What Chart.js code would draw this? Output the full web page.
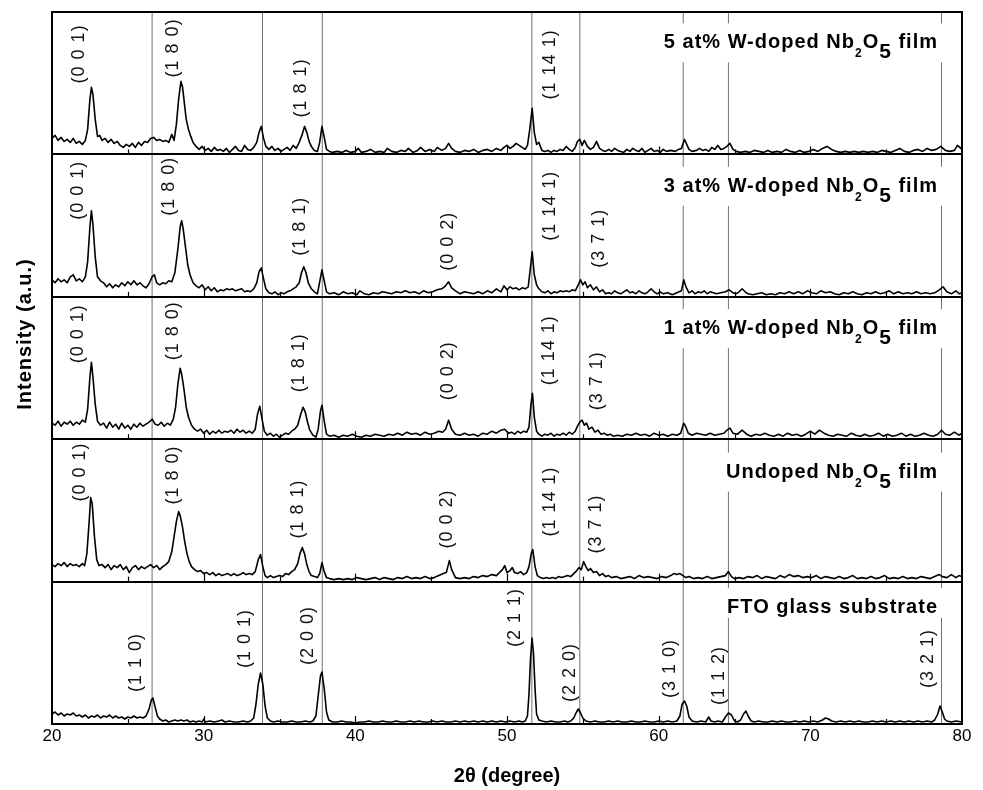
<!DOCTYPE html>
<html><head><meta charset="utf-8">
<script src="https://cdn.jsdelivr.net/npm/chart.js@4"></script>
<style>html,body{margin:0;padding:0;background:#fff;} canvas{display:block;}</style>
</head><body>
<canvas id="c" width="983" height="790"></canvas>
<script>
// ---------- DATA (2θ in degrees, intensity in a.u.; each panel spans 142.4 a.u.) ----------
const panelTitles = ['FTO glass substrate', 'Undoped Nb₂O₅ film', '1 at% W-doped Nb₂O₅ film', '3 at% W-doped Nb₂O₅ film', '5 at% W-doped Nb₂O₅ film'];
const titleHeights = [111, 104, 105, 105, 106];
const refLines = [26.6, 33.88, 37.82, 51.64, 54.8, 61.62, 64.6, 78.65];
const xTicks = [20, 30, 40, 50, 60, 70, 80];

const fto = [[20.0,10],[20.2,12],[20.4,9],[20.6,11],[20.8,8],[21.0,10],[21.2,9],[21.4,11],[21.6,8],[21.8,9],[22.0,7],[22.2,9],[22.4,6],[22.6,8],[22.8,7],[23.0,9],[23.2,6],[23.4,8],[23.6,7],[23.8,9],[24.0,6],[24.2,8],[24.4,6],[24.6,7],[24.8,5],[25.0,7],[25.2,6],[25.4,8],[25.6,6],[25.8,7],[26.0,6],[26.2,8],[26.4,15],[26.55,24],[26.65,26],[26.8,17],[26.95,8],[27.1,5],[27.3,3],[27.5,4],[27.7,2],[27.9,3],[28.1,4],[28.3,3],[28.5,4],[28.7,3],[28.9,4],[29.1,2],[29.3,3],[29.5,2],[29.7,3],[29.9,2],[30.0,5],[30.1,2],[30.4,3],[30.7,2],[31.0,3],[31.2,4],[31.4,2],[31.7,3],[32.0,2],[32.3,2],[32.6,3],[32.9,2],[33.1,3],[33.3,6],[33.45,20],[33.6,40],[33.75,51],[33.9,40],[34.05,18],[34.2,6],[34.4,3],[34.6,2],[34.9,3],[35.2,2],[35.5,2],[35.8,3],[36.1,2],[36.4,2],[36.7,3],[37.0,2],[37.2,3],[37.4,8],[37.55,28],[37.7,48],[37.8,52],[37.95,35],[38.1,12],[38.25,4],[38.5,2],[38.8,2],[39.1,3],[39.4,2],[39.7,2],[40.0,1],[40.3,2],[40.6,2],[40.9,3],[41.2,2],[41.5,2],[41.8,3],[42.1,2],[42.4,2],[42.7,3],[43.0,2],[43.3,2],[43.6,3],[43.9,2],[44.2,3],[44.5,2],[44.8,2],[45.1,3],[45.4,2],[45.7,3],[46.0,2],[46.3,2],[46.6,3],[46.9,2],[47.2,3],[47.5,2],[47.8,3],[48.1,2],[48.4,3],[48.7,2],[49.0,3],[49.3,2],[49.6,3],[49.9,2],[50.2,3],[50.5,2],[50.8,3],[51.0,2],[51.2,3],[51.35,8],[51.45,30],[51.55,65],[51.65,86],[51.75,70],[51.85,35],[51.95,10],[52.1,4],[52.3,3],[52.6,2],[52.9,3],[53.2,2],[53.5,2],[53.8,3],[54.0,2],[54.2,3],[54.4,6],[54.55,11],[54.7,15],[54.85,11],[55.0,6],[55.2,3],[55.5,2],[55.8,3],[56.1,2],[56.4,2],[56.7,3],[57.0,2],[57.3,3],[57.6,2],[57.9,2],[58.2,3],[58.5,2],[58.8,2],[59.1,3],[59.4,2],[59.7,2],[60.0,3],[60.3,2],[60.6,3],[60.9,2],[61.2,3],[61.4,8],[61.55,20],[61.7,23],[61.85,18],[62.0,7],[62.2,3],[62.5,2],[62.8,3],[63.1,2],[63.3,7],[63.45,3],[63.7,2],[63.9,3],[64.2,2],[64.4,7],[64.6,11],[64.8,9],[65.0,3],[65.2,2],[65.4,4],[65.6,10],[65.75,13],[65.9,8],[66.1,3],[66.3,2],[66.6,3],[66.9,2],[67.2,2],[67.5,3],[67.8,2],[68.1,3],[68.4,2],[68.7,2],[69.0,3],[69.3,2],[69.6,3],[69.9,2],[70.2,3],[70.5,2],[70.8,4],[71.0,6],[71.2,5],[71.4,3],[71.7,2],[72.0,3],[72.3,2],[72.6,3],[72.9,2],[73.2,3],[73.5,2],[73.8,2],[74.1,3],[74.4,2],[74.7,3],[75.0,2],[75.3,3],[75.6,2],[75.9,3],[76.2,2],[76.5,3],[76.8,2],[77.1,3],[77.4,2],[77.7,3],[78.0,2],[78.2,4],[78.4,10],[78.55,18],[78.7,12],[78.85,5],[79.0,3],[79.3,2],[79.6,3],[80.0,2]];

const undoped = [[20.0,17],[20.2,15],[20.4,18],[20.6,16],[20.8,19],[21.0,15],[21.2,18],[21.4,16],[21.6,17],[21.8,15],[22.0,18],[22.15,16],[22.3,28],[22.45,60],[22.55,84],[22.65,78],[22.8,45],[22.95,22],[23.1,16],[23.3,17],[23.5,14],[23.7,17],[23.9,12],[24.1,16],[24.3,14],[24.5,17],[24.7,12],[24.9,15],[25.1,9],[25.3,14],[25.5,16],[25.7,12],[25.9,15],[26.1,13],[26.3,15],[26.5,17],[26.7,14],[26.9,16],[27.1,12],[27.3,15],[27.5,17],[27.7,20],[27.9,30],[28.05,45],[28.2,60],[28.35,70],[28.45,66],[28.6,55],[28.75,40],[28.9,28],[29.05,20],[29.2,15],[29.4,12],[29.6,10],[29.8,11],[30.0,8],[30.2,9],[30.4,7],[30.6,9],[30.8,6],[31.0,8],[31.2,6],[31.4,7],[31.6,8],[31.8,6],[32.0,8],[32.2,6],[32.4,7],[32.6,9],[32.8,7],[33.0,8],[33.2,7],[33.4,10],[33.6,22],[33.75,27],[33.9,15],[34.05,6],[34.2,4],[34.4,6],[34.6,4],[34.8,5],[35.0,6],[35.2,5],[35.4,8],[35.6,7],[35.8,10],[36.0,12],[36.2,18],[36.35,28],[36.5,34],[36.65,28],[36.8,17],[36.95,10],[37.1,6],[37.3,5],[37.5,4],[37.65,8],[37.8,19],[37.95,10],[38.1,4],[38.3,3],[38.6,2],[38.9,3],[39.2,2],[39.5,3],[39.8,2],[40.1,4],[40.4,3],[40.7,2],[41.0,3],[41.3,4],[41.6,2],[41.9,4],[42.2,3],[42.5,2],[42.8,4],[43.1,3],[43.4,5],[43.7,3],[44.0,4],[44.3,3],[44.6,5],[44.9,3],[45.2,4],[45.5,6],[45.8,8],[46.0,9],[46.2,21],[46.35,12],[46.6,4],[46.9,3],[47.2,4],[47.5,3],[47.8,5],[48.1,4],[48.4,6],[48.7,5],[49.0,7],[49.3,6],[49.5,9],[49.7,12],[49.85,16],[50.0,9],[50.2,11],[50.35,14],[50.5,9],[50.7,8],[50.9,10],[51.1,7],[51.3,9],[51.45,15],[51.6,28],[51.7,32],[51.85,15],[52.0,6],[52.2,4],[52.4,3],[52.6,4],[52.8,3],[53.0,4],[53.2,3],[53.4,5],[53.6,4],[53.8,5],[54.0,6],[54.2,5],[54.4,8],[54.6,11],[54.75,14],[54.9,12],[55.05,20],[55.2,15],[55.35,11],[55.5,13],[55.7,9],[55.9,10],[56.1,6],[56.3,8],[56.5,5],[56.7,6],[56.9,4],[57.2,5],[57.5,3],[57.8,4],[58.1,5],[58.4,3],[58.7,6],[59.0,4],[59.3,5],[59.6,4],[59.9,3],[60.2,5],[60.5,4],[60.8,6],[61.0,8],[61.2,7],[61.4,8],[61.6,6],[61.8,4],[62.0,5],[62.3,3],[62.6,4],[62.9,3],[63.2,5],[63.5,3],[63.8,4],[64.1,5],[64.4,6],[64.6,10],[64.8,5],[65.0,3],[65.3,4],[65.6,3],[65.9,5],[66.2,4],[66.5,6],[66.8,3],[67.1,5],[67.4,4],[67.7,3],[68.0,6],[68.3,4],[68.6,7],[68.9,5],[69.2,6],[69.5,4],[69.8,5],[70.1,4],[70.4,6],[70.7,3],[71.0,5],[71.3,4],[71.6,3],[71.9,5],[72.2,3],[72.5,4],[72.8,6],[73.1,3],[73.4,4],[73.7,3],[74.0,5],[74.3,3],[74.6,4],[74.9,6],[75.2,3],[75.5,4],[75.8,3],[76.1,5],[76.4,3],[76.7,4],[77.0,3],[77.3,5],[77.6,4],[77.9,3],[78.2,5],[78.5,7],[78.7,5],[79.0,4],[79.3,7],[79.6,4],[79.8,6],[80.0,5]];

const w1 = [[20.0,16],[20.2,14],[20.4,18],[20.6,13],[20.8,17],[21.0,15],[21.2,18],[21.4,14],[21.6,17],[21.8,15],[22.0,19],[22.2,17],[22.35,30],[22.5,62],[22.6,77],[22.7,62],[22.85,35],[23.0,18],[23.2,14],[23.4,16],[23.6,11],[23.8,17],[24.0,12],[24.2,15],[24.4,10],[24.6,16],[24.8,11],[25.0,14],[25.2,10],[25.4,15],[25.6,12],[25.8,16],[26.0,13],[26.2,15],[26.4,17],[26.6,20],[26.8,15],[27.0,14],[27.2,17],[27.4,13],[27.6,16],[27.8,14],[28.0,20],[28.15,32],[28.3,55],[28.45,71],[28.55,65],[28.7,50],[28.85,32],[29.0,22],[29.2,14],[29.4,10],[29.6,8],[29.8,10],[30.0,6],[30.2,9],[30.4,5],[30.6,8],[30.8,6],[31.0,9],[31.2,6],[31.4,8],[31.6,7],[31.8,9],[32.0,6],[32.2,10],[32.4,7],[32.6,9],[32.8,6],[33.0,8],[33.2,6],[33.4,10],[33.55,25],[33.7,33],[33.85,20],[34.0,8],[34.2,4],[34.4,6],[34.6,3],[34.8,5],[35.0,2],[35.2,4],[35.4,6],[35.6,5],[35.8,8],[36.0,10],[36.2,14],[36.4,25],[36.55,32],[36.7,27],[36.85,17],[37.0,9],[37.2,4],[37.4,2],[37.55,10],[37.7,28],[37.8,34],[37.95,18],[38.1,5],[38.3,3],[38.6,4],[38.9,2],[39.2,4],[39.5,3],[39.8,5],[40.1,3],[40.4,2],[40.7,4],[41.0,3],[41.3,5],[41.6,4],[41.9,3],[42.2,5],[42.5,4],[42.8,6],[43.1,4],[43.4,7],[43.7,5],[44.0,6],[44.3,4],[44.6,7],[44.9,5],[45.2,6],[45.5,8],[45.75,7],[45.95,10],[46.15,19],[46.35,10],[46.6,5],[46.9,4],[47.2,6],[47.5,4],[47.8,5],[48.1,3],[48.4,6],[48.7,5],[49.0,8],[49.3,6],[49.6,9],[49.85,10],[50.1,6],[50.3,7],[50.5,5],[50.7,8],[50.9,6],[51.1,8],[51.3,7],[51.45,12],[51.58,35],[51.68,46],[51.8,22],[51.95,8],[52.1,5],[52.3,3],[52.5,5],[52.7,4],[52.9,6],[53.1,3],[53.3,5],[53.5,4],[53.7,6],[53.9,4],[54.1,7],[54.3,5],[54.5,8],[54.65,13],[54.8,17],[54.95,19],[55.1,14],[55.25,16],[55.4,10],[55.6,12],[55.8,7],[56.0,9],[56.2,5],[56.4,6],[56.6,4],[56.8,5],[57.0,3],[57.3,4],[57.6,3],[57.9,5],[58.2,4],[58.5,6],[58.8,4],[59.1,5],[59.4,3],[59.7,6],[60.0,4],[60.3,5],[60.6,3],[60.9,5],[61.2,4],[61.45,6],[61.65,16],[61.8,12],[61.95,6],[62.2,4],[62.5,6],[62.8,5],[63.1,4],[63.4,6],[63.7,4],[64.0,5],[64.3,6],[64.5,9],[64.7,11],[64.9,6],[65.2,5],[65.5,9],[65.8,5],[66.1,3],[66.4,5],[66.7,4],[67.0,6],[67.3,4],[67.6,3],[67.9,5],[68.2,3],[68.5,6],[68.8,4],[69.1,5],[69.4,3],[69.7,5],[70.0,8],[70.3,5],[70.6,9],[70.9,6],[71.2,4],[71.5,3],[71.8,5],[72.1,4],[72.4,3],[72.7,6],[73.0,4],[73.3,3],[73.6,5],[73.9,3],[74.2,4],[74.5,6],[74.8,3],[75.1,5],[75.4,3],[75.7,4],[76.0,6],[76.3,3],[76.6,5],[76.9,3],[77.2,4],[77.5,6],[77.8,4],[78.1,3],[78.4,5],[78.65,9],[78.9,5],[79.2,4],[79.5,7],[79.8,4],[80.0,6]];

const w3 = [[20.0,17],[20.2,14],[20.4,18],[20.6,15],[20.8,17],[21.0,14],[21.2,20],[21.4,22],[21.6,16],[21.8,18],[22.0,15],[22.2,20],[22.35,35],[22.5,70],[22.6,86],[22.7,72],[22.85,40],[23.0,20],[23.2,16],[23.4,14],[23.6,10],[23.8,13],[24.0,9],[24.2,12],[24.4,10],[24.6,14],[24.8,11],[25.0,15],[25.2,12],[25.4,16],[25.6,12],[25.8,14],[26.0,11],[26.2,9],[26.4,13],[26.6,20],[26.75,22],[26.9,14],[27.1,12],[27.3,14],[27.5,13],[27.7,16],[27.9,15],[28.1,24],[28.3,48],[28.45,70],[28.55,76],[28.65,68],[28.8,50],[28.95,32],[29.1,22],[29.3,14],[29.5,11],[29.7,9],[29.9,12],[30.1,7],[30.3,10],[30.5,6],[30.7,9],[30.9,5],[31.1,7],[31.3,6],[31.5,8],[31.7,7],[31.9,8],[32.1,6],[32.3,7],[32.5,8],[32.7,5],[32.9,6],[33.1,5],[33.3,8],[33.5,14],[33.65,25],[33.8,29],[33.95,18],[34.1,8],[34.3,4],[34.5,3],[34.7,5],[34.9,2],[35.1,4],[35.3,3],[35.5,5],[35.7,6],[35.9,8],[36.1,10],[36.3,14],[36.45,24],[36.6,30],[36.75,24],[36.9,14],[37.1,8],[37.3,5],[37.5,3],[37.65,15],[37.8,27],[37.95,16],[38.1,5],[38.3,3],[38.6,4],[38.9,2],[39.2,5],[39.5,3],[39.8,4],[40.1,2],[40.3,6],[40.6,3],[40.9,2],[41.2,4],[41.5,3],[41.8,5],[42.1,4],[42.4,3],[42.7,5],[43.0,4],[43.3,6],[43.6,4],[43.9,5],[44.2,3],[44.5,6],[44.8,4],[45.1,5],[45.4,7],[45.7,8],[45.95,11],[46.15,15],[46.35,9],[46.6,6],[46.9,3],[47.2,5],[47.5,4],[47.8,3],[48.1,5],[48.4,3],[48.7,6],[49.0,4],[49.3,8],[49.6,5],[49.8,11],[50.0,7],[50.2,10],[50.4,8],[50.6,9],[50.8,7],[51.0,9],[51.2,8],[51.4,10],[51.55,30],[51.66,45],[51.8,22],[51.95,12],[52.1,8],[52.3,5],[52.5,4],[52.7,6],[52.9,3],[53.1,5],[53.3,4],[53.5,6],[53.7,5],[53.9,6],[54.1,5],[54.3,7],[54.5,6],[54.7,12],[54.85,17],[55.0,12],[55.15,15],[55.3,9],[55.5,12],[55.7,7],[55.9,10],[56.1,5],[56.3,7],[56.5,3],[56.7,4],[56.9,3],[57.1,6],[57.3,4],[57.5,3],[57.7,5],[57.9,7],[58.1,4],[58.3,5],[58.5,3],[58.7,6],[58.9,4],[59.1,3],[59.3,5],[59.5,8],[59.7,5],[59.9,3],[60.1,5],[60.3,3],[60.6,4],[60.9,2],[61.2,4],[61.5,6],[61.65,17],[61.8,10],[62.0,4],[62.2,6],[62.4,3],[62.6,5],[62.8,4],[63.0,6],[63.2,3],[63.4,5],[63.6,4],[63.8,3],[64.1,4],[64.4,5],[64.65,7],[64.9,4],[65.1,3],[65.3,5],[65.5,8],[65.7,5],[65.9,3],[66.2,2],[66.5,3],[66.8,4],[67.1,2],[67.4,3],[67.7,2],[68.0,4],[68.3,3],[68.6,5],[68.9,3],[69.2,5],[69.5,3],[69.8,6],[70.1,4],[70.4,3],[70.7,6],[71.0,4],[71.3,5],[71.6,3],[71.9,2],[72.2,4],[72.5,3],[72.8,5],[73.1,3],[73.4,2],[73.7,4],[74.0,3],[74.3,5],[74.6,3],[74.9,4],[75.2,6],[75.5,3],[75.8,5],[76.1,3],[76.4,4],[76.7,3],[77.0,5],[77.3,3],[77.6,4],[77.9,3],[78.2,4],[78.5,7],[78.75,10],[79.0,5],[79.3,3],[79.6,6],[79.8,3],[80.0,4]];

const w5 = [[20.0,16],[20.2,19],[20.4,14],[20.6,17],[20.8,13],[21.0,15],[21.2,12],[21.4,16],[21.6,11],[21.8,13],[22.0,10],[22.2,14],[22.35,25],[22.5,55],[22.6,67],[22.7,60],[22.85,35],[23.0,18],[23.15,19],[23.3,14],[23.5,16],[23.7,12],[23.9,15],[24.1,11],[24.3,13],[24.5,9],[24.7,7],[24.9,10],[25.1,8],[25.3,11],[25.5,7],[25.7,12],[25.9,9],[26.1,13],[26.3,12],[26.5,16],[26.7,17],[26.9,14],[27.1,15],[27.3,13],[27.5,14],[27.7,12],[27.9,20],[28.05,14],[28.2,30],[28.35,55],[28.5,73],[28.6,68],[28.7,55],[28.85,35],[29.0,25],[29.15,18],[29.3,12],[29.5,8],[29.7,5],[29.9,8],[30.1,4],[30.3,6],[30.5,3],[30.7,7],[30.9,4],[31.1,5],[31.3,3],[31.5,6],[31.7,2],[31.9,5],[32.1,8],[32.3,4],[32.5,3],[32.7,9],[32.9,5],[33.1,4],[33.3,7],[33.5,12],[33.65,22],[33.8,28],[33.95,16],[34.1,8],[34.3,5],[34.5,8],[34.7,4],[34.9,6],[35.1,3],[35.3,5],[35.5,7],[35.7,4],[35.9,9],[36.1,6],[36.3,12],[36.5,20],[36.65,28],[36.8,22],[36.95,13],[37.1,8],[37.3,4],[37.5,3],[37.65,12],[37.8,28],[37.95,17],[38.1,5],[38.3,3],[38.5,2],[38.8,3],[39.1,2],[39.4,4],[39.7,2],[40.0,3],[40.2,6],[40.4,2],[40.7,3],[41.0,5],[41.3,2],[41.6,3],[41.9,2],[42.1,6],[42.4,3],[42.7,2],[43.0,4],[43.3,3],[43.5,6],[43.8,2],[44.1,4],[44.3,7],[44.6,3],[44.9,5],[45.2,3],[45.4,7],[45.7,4],[45.95,6],[46.15,11],[46.35,6],[46.6,3],[46.9,2],[47.2,4],[47.5,3],[47.8,5],[48.1,2],[48.4,4],[48.7,5],[49.0,3],[49.3,6],[49.6,4],[49.8,7],[50.0,9],[50.2,6],[50.4,8],[50.6,11],[50.8,9],[51.0,7],[51.2,5],[51.35,9],[51.5,25],[51.66,46],[51.8,22],[51.95,10],[52.1,12],[52.3,4],[52.5,3],[52.7,4],[52.9,2],[53.1,4],[53.3,3],[53.5,5],[53.7,4],[53.9,8],[54.1,5],[54.3,3],[54.5,7],[54.65,13],[54.8,15],[54.95,9],[55.1,14],[55.3,8],[55.5,5],[55.7,7],[55.9,13],[56.1,6],[56.3,4],[56.5,3],[56.7,5],[56.9,3],[57.1,6],[57.3,4],[57.5,3],[57.7,2],[57.9,5],[58.1,3],[58.3,6],[58.5,4],[58.7,3],[58.9,6],[59.1,2],[59.3,4],[59.5,6],[59.7,3],[59.9,4],[60.1,2],[60.3,5],[60.5,3],[60.8,4],[61.1,3],[61.3,5],[61.5,6],[61.7,15],[61.85,10],[62.0,5],[62.2,3],[62.5,4],[62.7,6],[62.9,4],[63.1,5],[63.3,3],[63.5,7],[63.7,5],[63.9,9],[64.1,5],[64.3,6],[64.5,8],[64.7,11],[64.9,5],[65.1,3],[65.4,2],[65.7,3],[66.0,2],[66.3,4],[66.6,3],[66.9,2],[67.2,4],[67.5,2],[67.8,3],[68.1,2],[68.4,5],[68.7,3],[69.0,2],[69.3,4],[69.6,2],[69.9,3],[70.2,5],[70.5,3],[70.8,6],[71.1,8],[71.4,5],[71.7,3],[72.0,2],[72.3,3],[72.6,2],[72.9,3],[73.2,2],[73.5,3],[73.8,2],[74.1,3],[74.4,2],[74.7,4],[75.0,3],[75.3,2],[75.6,4],[75.9,6],[76.2,3],[76.5,2],[76.8,4],[77.1,5],[77.4,3],[77.7,6],[78.0,4],[78.3,5],[78.6,8],[78.9,4],[79.2,3],[79.5,4],[79.7,9],[80.0,5]];

// Miller-index annotations: text, 2θ anchor, height anchor (a.u. within panel)
const hklFto = ['(1 1 0)','(1 0 1)','(2 0 0)','(2 1 1)','(2 2 0)','(3 1 0)','(1 1 2)','(3 2 1)'];
const hklFtoAt = [25.54, 32.7, 36.9, 50.52, 54.15, 60.74, 63.95, 77.75];
const hklFtoH = [32, 56, 59, 77, 22, 26, 19, 36];
const hklUndoped = ['(0 0 1)','(1 8 0)','(1 8 1)','(0 0 2)','(1 14 1)','(3 7 1)'];
const hklUndopedAt = [21.85, 28.0, 36.2, 46.06, 52.87, 55.84];
const hklUndopedH = [80, 77, 43, 33, 45, 28];
const hklW1 = ['(0 0 1)','(1 8 0)','(1 8 1)','(0 0 2)','(1 14 1)','(3 7 1)'];
const hklW1At = [21.73, 28.0, 36.3, 46.13, 52.76, 55.93];
const hklW1H = [76, 79, 47, 39, 54, 29];
const hklW3 = ['(0 0 1)','(1 8 0)','(1 8 1)','(0 0 2)','(1 14 1)','(3 7 1)'];
const hklW3At = [21.73, 27.71, 36.35, 46.13, 52.87, 56.06];
const hklW3H = [77, 81, 41, 26, 56, 29];
const hklW5 = ['(0 0 1)','(1 8 0)','(1 8 1)','(1 14 1)'];
const hklW5At = [21.81, 28.0, 36.44, 52.83];
const hklW5H = [71, 77, 37, 55];

// ---------- BUILD ----------
const PANEL = 142.4;
const series = [fto, undoped, w1, w3, w5];               // bottom → top
const hklSets = [[hklFto,hklFtoAt,hklFtoH],[hklUndoped,hklUndopedAt,hklUndopedH],[hklW1,hklW1At,hklW1H],[hklW3,hklW3At,hklW3H],[hklW5,hklW5At,hklW5H]];
const FONT = 'Arial, "Liberation Sans", sans-serif';
Chart.defaults.font.family = FONT;
Chart.defaults.font.size = 17;
Chart.defaults.color = '#000';

const datasets = [];
refLines.forEach(v => datasets.push({
  data: [{x: v, y: 0}, {x: v, y: 5 * PANEL}],
  borderColor: '#707070', borderWidth: 1, pointRadius: 0, order: 5
}));
series.forEach((s, i) => datasets.push({
  data: s.map(([x, y]) => ({x, y: y + i * PANEL})),
  borderColor: '#000', borderWidth: 1.6, pointRadius: 0, tension: 0, order: 1,
  borderJoinStyle: 'round'
}));

function titleSegments(str) {
  const out = []; let cur = '';
  for (const ch of str) {
    if (ch === '₂' || ch === '₅') {
      if (cur) out.push({t: cur, k: 'n'});
      cur = '';
      out.push({t: ch === '₂' ? '2' : '5', k: ch === '₂' ? 's' : 'S'});
    } else cur += ch;
  }
  if (cur) out.push({t: cur, k: 'n'});
  return out;
}
const segStyle = {n: {size: 20, dy: 0}, s: {size: 12, dy: 9}, S: {size: 21, dy: 10}};

const decor = {
  id: 'decor',
  afterDatasetsDraw(chart) {
    const {ctx, chartArea: ca, scales: {x, y}} = chart;
    ctx.save();
    // panel titles with white backing
    panelTitles.forEach((t, i) => {
      const segs = titleSegments(t);
      ctx.letterSpacing = '1px';
      let w = 0;
      segs.forEach(s => { ctx.font = 'bold ' + segStyle[s.k].size + 'px ' + FONT; s.w = ctx.measureText(s.t).width; w += s.w; });
      const right = ca.right - 24;
      const left = right - w;
      const base = y.getPixelForValue(i * PANEL + titleHeights[i]);
      const hasSub = segs.length > 1;
      ctx.fillStyle = '#fff';
      ctx.fillRect(left - 8, base - 25, w + 16, hasSub ? 39 : 30);
      ctx.fillStyle = '#000';
      ctx.textBaseline = 'alphabetic'; ctx.textAlign = 'left';
      let cx = left;
      segs.forEach(s => {
        ctx.font = 'bold ' + segStyle[s.k].size + 'px ' + FONT;
        ctx.fillText(s.t, cx, base + segStyle[s.k].dy);
        cx += s.w;
      });
    });
    // Miller indices
    ctx.letterSpacing = '1px';
    ctx.font = '18px ' + FONT;
    ctx.fillStyle = '#111';
    ctx.textAlign = 'left'; ctx.textBaseline = 'middle';
    hklSets.forEach(([txt, at, h], i) => {
      txt.forEach((t, k) => {
        const px = x.getPixelForValue(at[k]);
        const py = y.getPixelForValue(i * PANEL + h[k]);
        ctx.save(); ctx.translate(px, py); ctx.rotate(-Math.PI / 2);
        ctx.fillText(t, 0, 0); ctx.restore();
      });
    });
    // frame and panel separators
    ctx.strokeStyle = '#000'; ctx.lineWidth = 2;
    ctx.strokeRect(ca.left, ca.top, ca.right - ca.left, ca.bottom - ca.top);
    for (let k = 1; k < 5; k++) {
      const py = Math.round(y.getPixelForValue(k * PANEL));
      ctx.beginPath(); ctx.moveTo(ca.left, py); ctx.lineTo(ca.right, py); ctx.stroke();
    }
    // inward minor/major ticks on each panel
    ctx.lineWidth = 1.2;
    for (let k = 0; k < 5; k++) {
      const py = y.getPixelForValue(k * PANEL);
      for (let v = 25; v < 80; v += 5) {
        const px = Math.round(x.getPixelForValue(v)) + 0.5;
        const len = v % 10 === 0 ? 8 : 5;
        ctx.beginPath(); ctx.moveTo(px, py); ctx.lineTo(px, py - len); ctx.stroke();
      }
    }
    // y-axis title
    ctx.letterSpacing = '1px';
    ctx.font = 'bold 20px ' + FONT;
    ctx.fillStyle = '#000'; ctx.textAlign = 'center'; ctx.textBaseline = 'middle';
    ctx.translate(25, 334); ctx.rotate(-Math.PI / 2);
    ctx.fillText('Intensity (a.u.)', 0, 0);
    ctx.restore();
  }
};

new Chart(document.getElementById('c'), {
  type: 'line',
  data: {datasets},
  options: {
    responsive: false, animation: false, devicePixelRatio: 1,
    layout: {padding: {left: 52, right: 21, top: 12, bottom: 0}},
    plugins: {legend: {display: false}, tooltip: {enabled: false}},
    scales: {
      x: {
        type: 'linear', min: 20, max: 80,
        afterBuildTicks: s => { s.ticks = xTicks.map(v => ({value: v})); },
        ticks: {font: {family: FONT, size: 17}, color: '#000', padding: 2, maxRotation: 0, autoSkip: false},
        grid: {display: false, drawTicks: false},
        border: {display: false},
        title: {display: true, text: '2θ (degree)', color: '#000', font: {family: FONT, size: 20, weight: 'bold'}, padding: {top: 0, bottom: 2}},
        afterFit: s => { s.height = 66; }
      },
      y: {display: false, min: 0, max: 5 * PANEL}
    }
  },
  plugins: [decor]
});
</script>
</body></html>
